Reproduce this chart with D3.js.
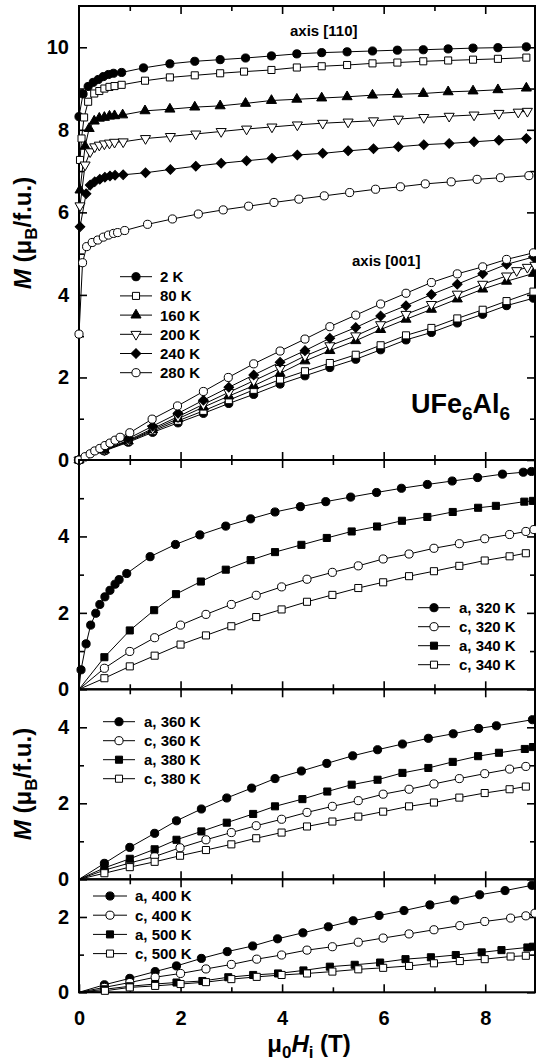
<!DOCTYPE html>
<html>
<head>
<meta charset="utf-8">
<script src="https://cdn.jsdelivr.net/npm/d3@7"></script>
<style>
  body { margin: 0; background: #fff; }
  svg text { font-family: "Liberation Sans", Arial, sans-serif; font-weight: bold; }
</style>
</head>
<body>
<div id="chart"></div>
<script>
// ---- data: [field (T), M (muB/f.u.)] ----

// top panel, field along [110]
var a110_2K = [[0,8.32],[0.08,8.87],[0.18,9.05],[0.28,9.15],[0.38,9.22],[0.48,9.29],[0.58,9.34],[0.68,9.37],[0.84,9.39],[1.27,9.5],[1.79,9.6],[2.28,9.66],[2.78,9.7],[3.28,9.74],[3.79,9.79],[4.29,9.84],[4.78,9.87],[5.28,9.89],[5.78,9.91],[6.27,9.93],[6.78,9.94],[7.27,9.96],[7.76,9.98],[8.25,9.99],[8.81,10.01]];
var a110_80K = [[0.02,7.27],[0.05,7.79],[0.1,8.3],[0.18,8.68],[0.3,8.88],[0.4,8.94],[0.5,9.0],[0.6,9.04],[0.7,9.06],[0.84,9.09],[1.3,9.19],[1.79,9.27],[2.28,9.32],[2.78,9.37],[3.25,9.41],[3.79,9.45],[4.29,9.51],[4.78,9.54],[5.28,9.57],[5.78,9.61],[6.27,9.63],[6.78,9.66],[7.27,9.68],[7.76,9.7],[8.25,9.72],[8.81,9.75]];
var a110_160K = [[0.02,6.54],[0.12,7.6],[0.2,8.03],[0.3,8.21],[0.4,8.28],[0.5,8.3],[0.6,8.33],[0.7,8.34],[0.86,8.36],[1.3,8.46],[1.79,8.5],[2.28,8.55],[2.78,8.58],[3.28,8.64],[3.79,8.71],[4.29,8.74],[4.78,8.77],[5.28,8.8],[5.78,8.84],[6.27,8.86],[6.78,8.88],[7.27,8.92],[7.76,8.94],[8.25,8.97],[8.81,9.01]];
var a110_200K = [[0.02,6.16],[0.12,7.15],[0.22,7.47],[0.31,7.59],[0.4,7.63],[0.5,7.66],[0.6,7.68],[0.7,7.7],[0.87,7.71],[1.31,7.79],[1.8,7.84],[2.3,7.9],[2.8,7.96],[3.3,8.02],[3.8,8.07],[4.3,8.12],[4.8,8.16],[5.3,8.19],[5.8,8.22],[6.29,8.26],[6.79,8.3],[7.29,8.33],[7.78,8.36],[8.27,8.4],[8.65,8.43],[8.83,8.45]];
var a110_240K = [[0.02,5.65],[0.14,6.45],[0.22,6.66],[0.31,6.74],[0.41,6.8],[0.51,6.85],[0.61,6.88],[0.71,6.9],[0.87,6.91],[1.31,6.96],[1.8,7.04],[2.3,7.12],[2.8,7.19],[3.3,7.25],[3.8,7.31],[4.3,7.39],[4.8,7.43],[5.3,7.49],[5.8,7.54],[6.29,7.59],[6.79,7.64],[7.29,7.67],[7.78,7.71],[8.27,7.75],[8.81,7.79]];
var a110_280K = [[0,3.05],[0.07,4.78],[0.15,5.17],[0.26,5.27],[0.37,5.33],[0.48,5.4],[0.58,5.45],[0.68,5.49],[0.76,5.51],[0.9,5.56],[1.35,5.71],[1.84,5.84],[2.35,5.96],[2.84,6.06],[3.34,6.15],[3.84,6.24],[4.33,6.32],[4.83,6.4],[5.33,6.48],[5.84,6.56],[6.33,6.62],[6.82,6.69],[7.33,6.74],[7.84,6.8],[8.3,6.84],[8.86,6.89]];

// top panel, field along [001]
var c001_2K = [[0,0],[0.5,0.22],[0.97,0.43],[1.45,0.67],[1.95,0.9],[2.45,1.13],[2.95,1.37],[3.44,1.59],[3.96,1.84],[4.45,2.04],[4.94,2.24],[5.45,2.44],[5.94,2.67],[6.44,2.91],[6.94,3.09],[7.45,3.32],[7.95,3.53],[8.42,3.74],[8.95,3.92]];
var c001_80K = [[0,0],[0.5,0.23],[0.97,0.45],[1.45,0.7],[1.95,0.95],[2.45,1.19],[2.95,1.45],[3.44,1.7],[3.96,1.95],[4.45,2.15],[4.94,2.35],[5.45,2.55],[5.94,2.78],[6.44,3.02],[6.94,3.2],[7.45,3.43],[7.95,3.64],[8.42,3.85],[8.95,4.08]];
var c001_160K = [[0,0],[0.5,0.24],[0.97,0.46],[1.45,0.73],[1.95,1.0],[2.45,1.28],[2.95,1.55],[3.44,1.8],[3.96,2.1],[4.45,2.4],[4.94,2.65],[5.45,2.89],[5.94,3.16],[6.44,3.41],[6.94,3.65],[7.45,3.9],[7.95,4.14],[8.42,4.33],[8.95,4.52]];
var c001_200K = [[0,0],[0.5,0.25],[0.97,0.48],[1.45,0.76],[1.95,1.05],[2.45,1.35],[2.95,1.64],[3.44,1.92],[3.96,2.22],[4.45,2.52],[4.94,2.77],[5.45,3.01],[5.94,3.28],[6.44,3.53],[6.94,3.77],[7.45,4.02],[7.95,4.26],[8.42,4.46],[8.62,4.59],[8.83,4.67],[8.98,4.72]];
var c001_240K = [[0,0],[0.5,0.28],[0.97,0.52],[1.45,0.82],[1.95,1.13],[2.45,1.45],[2.95,1.76],[3.44,2.06],[3.96,2.37],[4.45,2.65],[4.94,2.95],[5.45,3.21],[5.94,3.49],[6.44,3.74],[6.94,4.01],[7.45,4.26],[7.95,4.51],[8.42,4.74],[8.95,4.92]];
var c001_280K = [[0,0],[0.12,0.08],[0.22,0.15],[0.31,0.22],[0.41,0.28],[0.51,0.35],[0.61,0.41],[0.71,0.48],[0.81,0.55],[1.0,0.66],[1.44,0.99],[1.94,1.31],[2.45,1.66],[2.94,2.0],[3.44,2.33],[3.96,2.64],[4.45,2.93],[4.94,3.23],[5.45,3.51],[5.94,3.78],[6.44,4.04],[6.94,4.3],[7.45,4.51],[7.95,4.68],[8.42,4.86],[8.95,5.02]];

// 320 K / 340 K
var a320 = [[0,0],[0.04,0.51],[0.14,1.19],[0.23,1.68],[0.33,1.99],[0.41,2.22],[0.51,2.42],[0.61,2.59],[0.71,2.75],[0.79,2.87],[0.94,3.03],[1.4,3.47],[1.9,3.79],[2.38,4.04],[2.89,4.27],[3.38,4.46],[3.86,4.64],[4.36,4.78],[4.86,4.91],[5.35,5.03],[5.86,5.15],[6.35,5.26],[6.86,5.36],[7.35,5.45],[7.85,5.54],[8.34,5.63],[8.75,5.68],[8.91,5.7]];
var c320 = [[0,0],[0.5,0.55],[1.0,0.99],[1.49,1.35],[2.0,1.68],[2.5,1.96],[3.0,2.22],[3.49,2.46],[3.99,2.68],[4.49,2.88],[4.99,3.06],[5.5,3.23],[5.99,3.41],[6.5,3.54],[6.99,3.69],[7.49,3.81],[7.99,3.94],[8.48,4.05],[8.8,4.13],[8.96,4.18]];
var a340 = [[0,0],[0.5,0.84],[1.0,1.54],[1.48,2.07],[1.91,2.49],[2.4,2.82],[2.89,3.13],[3.38,3.38],[3.86,3.59],[4.38,3.78],[4.88,3.96],[5.37,4.13],[5.87,4.26],[6.36,4.41],[6.86,4.51],[7.36,4.64],[7.86,4.75],[8.21,4.8],[8.77,4.91],[8.94,4.93]];
var c340 = [[0,0],[0.5,0.29],[1.0,0.6],[1.49,0.88],[2.0,1.17],[2.5,1.41],[3.0,1.65],[3.49,1.89],[3.99,2.09],[4.49,2.29],[4.99,2.47],[5.5,2.65],[5.99,2.8],[6.5,2.96],[6.99,3.09],[7.49,3.23],[7.99,3.37],[8.48,3.48],[8.8,3.56]];

// 360 K / 380 K
var a360 = [[0,0],[0.5,0.42],[1.0,0.84],[1.49,1.21],[1.92,1.54],[2.41,1.85],[2.91,2.14],[3.4,2.4],[3.86,2.65],[4.38,2.85],[4.88,3.05],[5.39,3.25],[5.88,3.41],[6.37,3.56],[6.88,3.71],[7.37,3.83],[7.87,3.97],[8.22,4.04],[8.93,4.2]];
var c360 = [[0,0],[0.5,0.24],[1.0,0.43],[1.49,0.6],[1.99,0.83],[2.5,1.04],[3.0,1.23],[3.49,1.41],[3.99,1.58],[4.49,1.76],[4.99,1.92],[5.5,2.07],[5.99,2.24],[6.5,2.37],[6.99,2.51],[7.49,2.65],[7.99,2.78],[8.48,2.9],[8.8,2.97]];
var a380 = [[0,0],[0.5,0.3],[1.0,0.54],[1.49,0.79],[1.92,1.04],[2.41,1.26],[2.91,1.49],[3.43,1.72],[3.86,1.92],[4.4,2.11],[4.89,2.31],[5.37,2.49],[5.88,2.62],[6.37,2.8],[6.88,2.93],[7.36,3.09],[7.86,3.24],[8.27,3.33],[8.78,3.43],[8.94,3.48]];
var c380 = [[0,0],[0.5,0.16],[1.0,0.32],[1.49,0.46],[1.99,0.62],[2.5,0.77],[3.0,0.92],[3.49,1.08],[3.99,1.23],[4.49,1.39],[4.99,1.52],[5.5,1.65],[5.99,1.78],[6.5,1.92],[6.99,2.02],[7.49,2.15],[7.99,2.27],[8.48,2.37],[8.8,2.44]];

// 400 K / 500 K
var a400 = [[0,0],[0.5,0.2],[1.0,0.37],[1.5,0.55],[1.92,0.7],[2.41,0.9],[2.92,1.08],[3.42,1.23],[3.91,1.42],[4.41,1.58],[4.91,1.74],[5.4,1.9],[5.91,2.04],[6.4,2.17],[6.91,2.32],[7.4,2.45],[7.89,2.59],[8.39,2.7],[8.92,2.84]];
var c400 = [[0,0],[0.5,0.13],[1.0,0.26],[1.5,0.4],[2.0,0.5],[2.5,0.62],[3.0,0.74],[3.5,0.88],[3.99,0.99],[4.49,1.12],[4.99,1.21],[5.5,1.33],[5.99,1.44],[6.5,1.55],[6.99,1.66],[7.5,1.77],[7.99,1.88],[8.5,1.97],[8.8,2.03],[8.98,2.1]];
var a500 = [[0,0],[0.5,0.08],[1.0,0.16],[1.5,0.22],[1.92,0.26],[2.43,0.3],[2.94,0.4],[3.43,0.46],[3.92,0.5],[4.42,0.58],[4.94,0.68],[5.43,0.73],[5.93,0.79],[6.43,0.88],[6.93,0.93],[7.42,0.99],[7.93,1.06],[8.32,1.12],[8.83,1.19],[8.94,1.21]];
var c500 = [[0,0],[0.51,0.04],[1.0,0.13],[1.5,0.17],[2.0,0.22],[2.5,0.27],[3.0,0.35],[3.5,0.41],[3.99,0.46],[4.49,0.5],[4.99,0.55],[5.5,0.61],[5.99,0.65],[6.5,0.7],[6.99,0.77],[7.5,0.83],[7.99,0.88],[8.5,0.95],[8.8,0.97]];

// legend labels
var labelsTop = ["2 K", "80 K", "160 K", "200 K", "240 K", "280 K"];
var labels2 = ["a, 320 K", "c, 320 K", "a, 340 K", "c, 340 K"];
var labels3 = ["a, 360 K", "c, 360 K", "a, 380 K", "c, 380 K"];
var labels4 = ["a, 400 K", "c, 400 K", "a, 500 K", "c, 500 K"];

// axis limits
var xMax = 9;
var yMaxes = [11, 6, 5, 3];

// ---- layout ----
var svgWidth = 536, svgHeight = 1061;
var xLeft = 79, xRight = 535;

var svg = d3.select("#chart").append("svg")
  .attr("width", svgWidth)
  .attr("height", svgHeight);

var x = d3.scaleLinear().domain([0, xMax]).range([xLeft, 536]);

// panel pixel bounds (top, bottom)
var panelBox = [[6, 460], [460, 689.3], [689.3, 879.3], [879.3, 992.3]];

// marker shapes
function markerPath(kind) {
  if (kind == "circle") return d3.symbol().type(d3.symbolCircle).size(52)();
  if (kind == "square") return d3.symbol().type(d3.symbolSquare).size(50)();
  if (kind == "diamond") return d3.symbol().type(d3.symbolSquare).size(46)();
  return d3.symbol().type(d3.symbolTriangle).size(44)();
}
function markerRot(kind) {
  if (kind == "diamond") return " rotate(45)";
  if (kind == "tridown") return " rotate(180)";
  return "";
}

var topStyles = [
  {kind: "circle", fill: "#000"},
  {kind: "square", fill: "#fff"},
  {kind: "triangle", fill: "#000"},
  {kind: "tridown", fill: "#fff"},
  {kind: "diamond", fill: "#000"},
  {kind: "circle", fill: "#fff"}
];
var pairStyles = [
  {kind: "circle", fill: "#000"},
  {kind: "circle", fill: "#fff"},
  {kind: "square", fill: "#000"},
  {kind: "square", fill: "#fff"}
];

var panels = [
  {series: [a110_2K, a110_80K, a110_160K, a110_200K, a110_240K, a110_280K,
            c001_2K, c001_80K, c001_160K, c001_200K, c001_240K, c001_280K],
   styles: topStyles.concat(topStyles), labels: labelsTop, originMark: true,
   legend: {x0: 120, x1: 152, tx: 160, y0: 276.7, dy: 19.2}},
  {series: [a320, c320, a340, c340], styles: pairStyles, labels: labels2,
   legend: {x0: 418, x1: 450, tx: 459, y0: 607.7, dy: 19}},
  {series: [a360, c360, a380, c380], styles: pairStyles, labels: labels3,
   legend: {x0: 103, x1: 135, tx: 144, y0: 721.7, dy: 19}},
  {series: [a400, c400, a500, c500], styles: pairStyles, labels: labels4,
   legend: {x0: 93, x1: 127, tx: 135, y0: 896, dy: 19.2}}
];

panels.forEach(function(p, i) {
  var top = panelBox[i][0], bottom = panelBox[i][1];
  var y = d3.scaleLinear().domain([0, yMaxes[i]]).range([bottom, top]);
  var g = svg.append("g");

  var majors = d3.range(0, yMaxes[i] + 0.01, 2).filter(function(v) { return y(v) > top + 3; });
  var minors = d3.range(1, yMaxes[i], 2);

  // left axis: labelled majors, inward ticks
  var left = g.append("g").attr("transform", "translate(" + xLeft + ",0)")
    .call(d3.axisLeft(y).tickValues(majors).tickSizeInner(-8).tickSizeOuter(0).tickPadding(10).tickFormat(d3.format("d")));
  left.selectAll("text").style("font-size", "20px").attr("fill", "#000");
  g.append("g").attr("transform", "translate(" + xLeft + ",0)")
    .call(d3.axisLeft(y).tickValues(minors).tickSizeInner(-5).tickSizeOuter(0).tickFormat(""));
  // right axis ticks
  g.append("g").attr("transform", "translate(" + xRight + ",0)")
    .call(d3.axisRight(y).tickValues(majors).tickSizeInner(-8).tickSizeOuter(0).tickFormat(""));
  g.append("g").attr("transform", "translate(" + xRight + ",0)")
    .call(d3.axisRight(y).tickValues(minors).tickSizeInner(-5).tickSizeOuter(0).tickFormat(""));

  // top and bottom x ticks
  var xMaj = [2, 4, 6, 8], xMin = [1, 3, 5, 7];
  g.append("g").attr("transform", "translate(0," + top + ")")
    .call(d3.axisTop(x).tickValues(xMaj).tickSizeInner(-8).tickSizeOuter(0).tickFormat(""));
  g.append("g").attr("transform", "translate(0," + top + ")")
    .call(d3.axisTop(x).tickValues(xMin).tickSizeInner(-5).tickSizeOuter(0).tickFormat(""));
  var bx = g.append("g").attr("transform", "translate(0," + bottom + ")")
    .call(d3.axisBottom(x).tickValues(i == 3 ? [0, 2, 4, 6, 8] : xMaj).tickSizeInner(-8).tickSizeOuter(0).tickPadding(19)
      .tickFormat(i == 3 ? d3.format("d") : ""));
  bx.selectAll("text").style("font-size", "20px").attr("fill", "#000");
  g.append("g").attr("transform", "translate(0," + bottom + ")")
    .call(d3.axisBottom(x).tickValues(xMin).tickSizeInner(-5).tickSizeOuter(0).tickFormat(""));

  g.selectAll(".domain").remove();
  g.selectAll(".tick line").attr("stroke", "#000").attr("stroke-width", 1.6);

  // frame
  g.append("rect")
    .attr("x", xLeft).attr("y", top)
    .attr("width", xRight - xLeft).attr("height", bottom - top)
    .attr("fill", "none").attr("stroke", "#000").attr("stroke-width", 2);

  var line = d3.line()
    .x(function(d) { return x(d[0]); })
    .y(function(d) { return y(d[1]); });

  // curves
  p.series.forEach(function(s) {
    g.append("path").datum(s)
      .attr("d", line)
      .attr("fill", "none").attr("stroke", "#000").attr("stroke-width", 1);
  });
  // markers (lower panels: no marker drawn at the origin)
  p.series.forEach(function(s, k) {
    var st = p.styles[k];
    var pts = p.originMark ? s : s.filter(function(d) { return d[0] > 0; });
    g.selectAll(null).data(pts).enter().append("path")
      .attr("d", markerPath(st.kind))
      .attr("transform", function(d) { return "translate(" + x(d[0]) + "," + y(d[1]) + ")" + markerRot(st.kind); })
      .attr("fill", st.fill).attr("stroke", "#000").attr("stroke-width", 1);
  });

  // legend
  var lg = p.legend;
  p.labels.forEach(function(lab, k) {
    var st = p.styles[k];
    var ly = lg.y0 + k * lg.dy;
    var cx = (lg.x0 + lg.x1) / 2;
    g.append("line").attr("x1", lg.x0).attr("x2", lg.x1).attr("y1", ly).attr("y2", ly)
      .attr("stroke", "#000").attr("stroke-width", 1);
    g.append("path").attr("d", markerPath(st.kind))
      .attr("transform", "translate(" + cx + "," + ly + ")" + markerRot(st.kind))
      .attr("fill", st.fill).attr("stroke", "#000").attr("stroke-width", 1);
    g.append("text").attr("x", lg.tx).attr("y", ly).attr("dy", "0.36em")
      .style("font-size", "15px").text(lab);
  });
});

// annotations
svg.append("text").attr("x", 290).attr("y", 36).style("font-size", "15px").text("axis [110]");
svg.append("text").attr("x", 352).attr("y", 266).style("font-size", "15px").text("axis [001]");
var formula = svg.append("text").attr("x", 411).attr("y", 413).style("font-size", "27px");
formula.append("tspan").text("UFe");
formula.append("tspan").attr("dy", 7).style("font-size", "19px").text("6");
formula.append("tspan").attr("dy", -7).text("Al");
formula.append("tspan").attr("dy", 7).style("font-size", "19px").text("6");

// y axis titles
function yTitle(cy) {
  var t = svg.append("text")
    .attr("transform", "translate(31," + cy + ") rotate(-90)")
    .attr("text-anchor", "middle")
    .style("font-size", "24px");
  t.append("tspan").style("font-style", "italic").text("M");
  t.append("tspan").text(" (\u03bc");
  t.append("tspan").attr("dy", 6).style("font-size", "17px").text("B");
  t.append("tspan").attr("dy", -6).text("/f.u.)");
}
yTitle(233);
yTitle(784);

// x axis title
var xt = svg.append("text").attr("x", 309).attr("y", 1052)
  .attr("text-anchor", "middle").style("font-size", "24px");
xt.append("tspan").text("\u03bc");
xt.append("tspan").attr("dy", 6).style("font-size", "17px").text("0");
xt.append("tspan").attr("dy", -6).style("font-style", "italic").text("H");
xt.append("tspan").attr("dy", 6).style("font-size", "17px").text("i");
xt.append("tspan").attr("dy", -6).text(" (T)");
</script>
</body>
</html>
